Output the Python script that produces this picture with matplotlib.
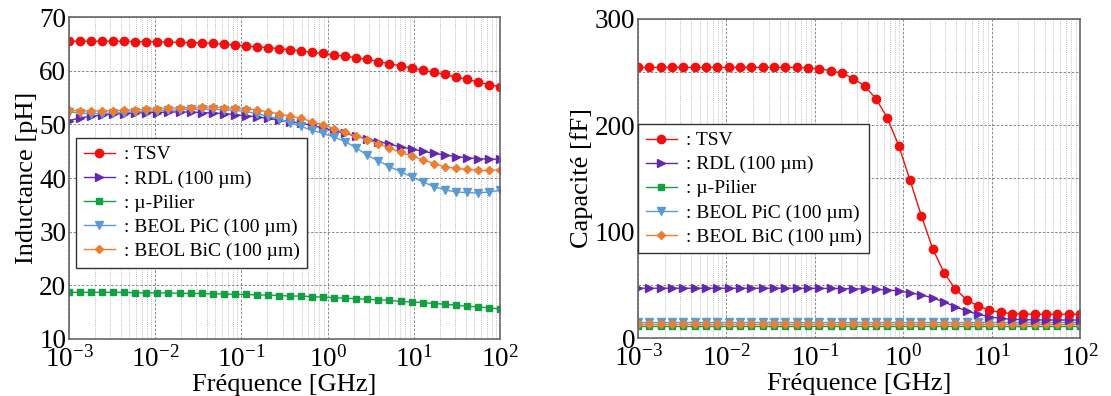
import numpy as np
import matplotlib
matplotlib.use('Agg')
import matplotlib.pyplot as plt
from matplotlib.ticker import LogLocator, MultipleLocator, FixedLocator

plt.rcParams['font.family'] = ['Liberation Serif', 'DejaVu Serif']
plt.rcParams['mathtext.fontset'] = 'stix'

# frequency sweep (GHz), 40 log-spaced points from 1 MHz to 100 GHz
freq = np.logspace(-3, 2, 40)

# inductance [pH]
L_tsv = [65.5, 65.5, 65.5, 65.5, 65.5, 65.5, 65.4, 65.4, 65.4, 65.3,
         65.3, 65.2, 65.2, 65.1, 64.9, 64.8, 64.6, 64.4, 64.3, 64.1,
         63.9, 63.7, 63.4, 63.2, 62.9, 62.7, 62.4, 62.1, 61.7, 61.3,
         60.9, 60.5, 60.1, 59.7, 59.3, 58.8, 58.4, 57.9, 57.4, 57.0]
L_rdl = [50.7, 51.2, 51.5, 51.7, 51.9, 52.0, 52.1, 52.2, 52.2, 52.3,
         52.3, 52.3, 52.2, 52.1, 52.0, 51.8, 51.6, 51.4, 51.1, 50.8,
         50.5, 50.2, 49.8, 49.3, 48.8, 48.3, 47.8, 47.3, 46.8, 46.3,
         45.8, 45.4, 45.0, 44.6, 44.3, 44.0, 43.8, 43.6, 43.5, 43.5]
L_pilier = [18.7, 18.7, 18.7, 18.7, 18.7, 18.7, 18.6, 18.6, 18.6, 18.6,
            18.5, 18.5, 18.5, 18.4, 18.4, 18.3, 18.3, 18.2, 18.2, 18.1,
            18.0, 18.0, 17.9, 17.8, 17.7, 17.6, 17.5, 17.4, 17.3, 17.2,
            17.0, 16.9, 16.8, 16.6, 16.5, 16.3, 16.1, 16.0, 15.8, 15.6]
L_pic = [52.3, 52.1, 52.0, 52.0, 52.1, 52.2, 52.3, 52.4, 52.5, 52.6,
         52.7, 52.8, 52.8, 52.8, 52.7, 52.6, 52.4, 52.0, 51.5, 51.0,
         50.3, 49.6, 48.9, 48.3, 47.6, 46.8, 45.6, 44.2, 43.2, 42.1,
         41.2, 40.2, 39.3, 38.4, 37.8, 37.4, 37.3, 37.2, 37.4, 37.7]
L_bic = [52.6, 52.5, 52.5, 52.5, 52.5, 52.6, 52.7, 52.8, 52.9, 53.0,
         53.1, 53.1, 53.2, 53.2, 53.1, 53.0, 52.9, 52.7, 52.3, 52.0,
         51.5, 51.1, 50.5, 49.9, 49.2, 48.5, 47.8, 47.1, 46.4, 45.6,
         44.8, 44.1, 43.4, 42.7, 42.1, 41.8, 41.6, 41.4, 41.4, 41.5]

# capacitance [fF]
C_tsv = [254.5, 254.5, 254.5, 254.5, 254.5, 254.5, 254.5, 254.5, 254.5, 254.5,
         254.5, 254.5, 254.5, 254.5, 254.4, 254.2, 253.0, 251.5, 249.0, 244.0,
         237.0, 225.0, 207.0, 181.0, 148.5, 115.0, 84.0, 61.5, 46.0, 36.0,
         30.0, 26.3, 24.0, 23.0, 22.5, 22.3, 22.3, 22.3, 22.3, 22.3]
C_rdl = [46.8, 46.8, 46.8, 46.8, 46.8, 46.8, 46.8, 46.8, 46.8, 46.8,
         46.8, 46.8, 46.8, 46.8, 46.8, 46.7, 46.7, 46.6, 46.5, 46.3,
         46.1, 45.8, 45.2, 44.3, 42.6, 40.4, 37.9, 33.8, 29.5, 25.4,
         22.3, 20.0, 18.5, 17.6, 17.2, 17.0, 16.9, 16.9, 16.9, 16.9]
C_pilier = [11.6] * 40
C_pic = [15.3] * 40
C_bic = [13.6] * 40

labels = [': TSV', ': RDL (100 µm)', ': µ-Pilier',
          ': BEOL PiC (100 µm)', ': BEOL BiC (100 µm)']
colors = ['#f01010', '#6428b0', '#12a043', '#5b9bd5', '#ed7d31']
markers = ['o', '>', 's', 'v', 'D']
msizes = [6, 5.5, 5, 5.5, 4.5]

fig = plt.figure(figsize=(11.11, 3.96), dpi=100)
ax1 = fig.add_axes([69 / 1111, 1 - 339 / 396, 431 / 1111, 322 / 396])
ax2 = fig.add_axes([638 / 1111, 1 - 338 / 396, 442 / 1111, 319 / 396])

leg_kw = dict(loc='upper left', borderaxespad=0, fontsize=14, frameon=True,
              fancybox=False, edgecolor='#333333', framealpha=1,
              handlelength=1.6, handletextpad=0.45, labelspacing=0.33,
              borderpad=0.4)


def style_axes(ax, ylabel):
    ax.set_xscale('log')
    ax.set_xlim(1e-3, 1e2)
    ax.xaxis.set_major_locator(LogLocator(base=10, numticks=10))
    ax.xaxis.set_minor_locator(LogLocator(base=10, subs=np.arange(2, 10), numticks=20))
    ax.grid(True, which='major', ls=(0, (3, 2)), color='#777777', lw=0.6)
    ax.grid(True, which='minor', axis='x', ls=(0, (1, 1.5)), color='#aaaaaa', lw=0.6)
    ax.grid(True, which='minor', axis='y', ls=(0, (3, 2)), color='#777777', lw=0.6)
    ax.tick_params(which='both', length=0, labelsize=19.5)
    ax.tick_params(axis='x', pad=5)
    ax.tick_params(axis='y', pad=2)
    ax.set_xlabel('Fréquence [GHz]', fontsize=19, labelpad=1)
    ax.set_ylabel(ylabel, fontsize=19, labelpad=1)
    for s in ax.spines.values():
        s.set_color('#666666')
        s.set_linewidth(1.2)
    ax.set_axisbelow(True)


for ys, c, m, ms, lab in zip([L_tsv, L_rdl, L_pilier, L_pic, L_bic], colors, markers, msizes, labels):
    ax1.plot(freq, ys, color=c, marker=m, ms=ms, lw=1.0, label=lab)
ax1.set_ylim(10, 70)
ax1.yaxis.set_major_locator(MultipleLocator(10))
style_axes(ax1, 'Inductance [pH]')
leg1 = ax1.legend(bbox_to_anchor=(0.016, 0.624), **leg_kw)
leg1.get_frame().set_linewidth(1.0)

# right panel: drawn so that TSV sits on top
order = [2, 3, 4, 1, 0]
Cs = [C_tsv, C_rdl, C_pilier, C_pic, C_bic]
lines = {}
for k in order:
    ln, = ax2.plot(freq, Cs[k], color=colors[k], marker=markers[k], ms=msizes[k],
                   lw=1.0, label=labels[k])
    lines[k] = ln
ax2.set_ylim(0, 300)
ax2.yaxis.set_major_locator(MultipleLocator(100))
ax2.yaxis.set_minor_locator(FixedLocator([50, 150, 250]))
style_axes(ax2, 'Capacité [fF]')
leg2 = ax2.legend([lines[k] for k in range(5)], labels,
                  bbox_to_anchor=(0.0, 0.671), **leg_kw)
leg2.get_frame().set_linewidth(1.0)

fig.savefig('out.png', dpi=100)
